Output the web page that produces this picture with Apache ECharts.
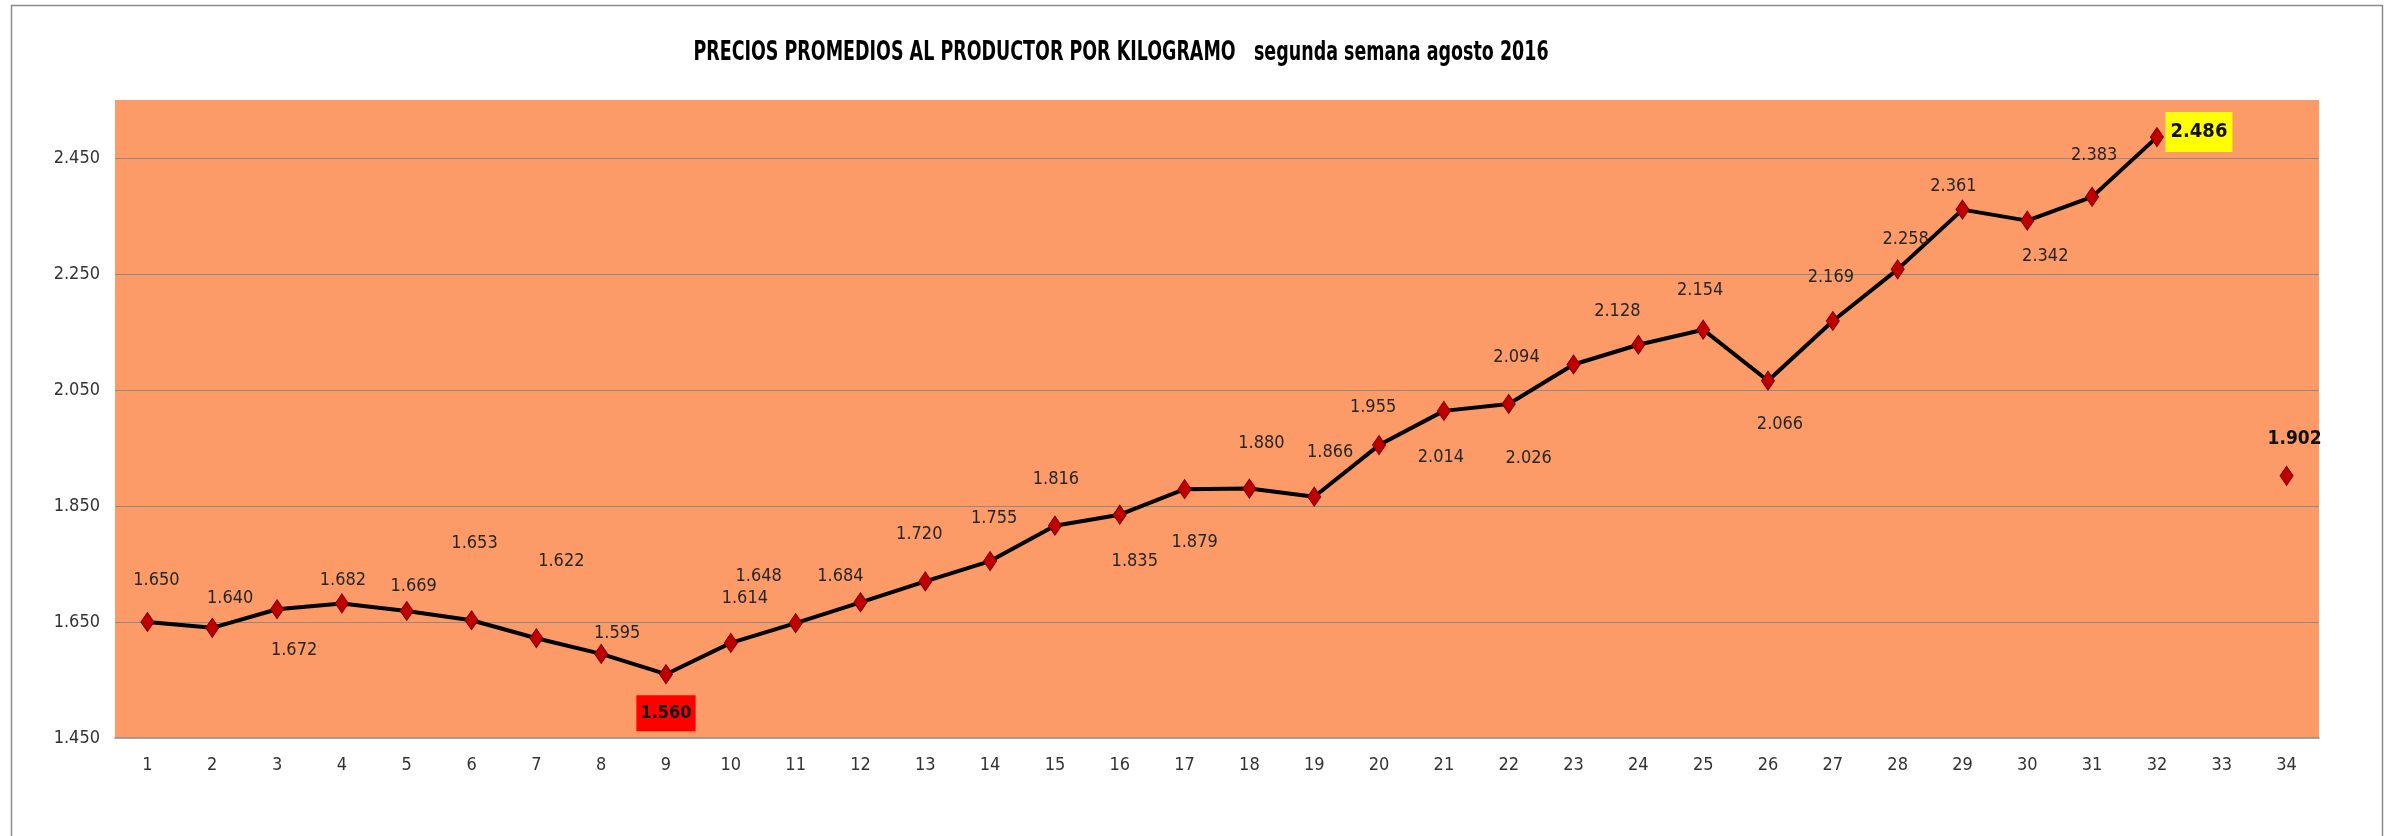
<!DOCTYPE html>
<html>
<head>
<meta charset="utf-8">
<script src="https://cdn.jsdelivr.net/npm/echarts@6/dist/echarts.min.js"></script>
<style>
html,body{margin:0;padding:0;background:#fff;}
#chart{width:2387px;height:836px;}
</style>
</head>
<body>
<div id="chart"></div>
<script>
const titleText = 'PRECIOS PROMEDIOS AL PRODUCTOR POR KILOGRAMO   segunda semana agosto 2016';
const categories = ['1','2','3','4','5','6','7','8','9','10','11','12','13','14','15','16','17','18','19','20','21','22','23','24','25','26','27','28','29','30','31','32','33','34'];
const prices = [1.650,1.640,1.672,1.682,1.669,1.653,1.622,1.595,1.560,1.614,1.648,1.684,1.720,1.755,1.816,1.835,1.879,1.880,1.866,1.955,2.014,2.026,2.094,2.128,2.154,2.066,2.169,2.258,2.361,2.342,2.383,2.486,null,1.902];
const yTicks = [1.450,1.650,1.850,2.050,2.250,2.450];

// label placement (layout only): [dx, dy] from each point
const labelOffsets = [[9,-42],[18,-29],[17,41],[1,-23],[7,-25],[3,-77],[25,-77],[16,-21],[0,39],[14,-45],
  [-37,-47],[-20,-26],[-6,-47],[4,-43],[1,-46],[15,47],[10,53],[12,-45],[16,-44],[-6,-38],
  [-3,46],[20,54],[-57,-7],[-21,-33],[-3,-39],[12,44],[-2,-44],[8,-30],[-9,-23],[18,36],
  [2,-42],[42,-5],[0,0],[8,-37]];
const minIdx = 8, maxIdx = 31, lastIdx = 33;

const FONT = '"DejaVu Sans Condensed", "Liberation Sans Narrow", sans-serif';
const chart = echarts.init(document.getElementById('chart'));

const seriesData = prices.map((v, i) => {
  if (v === null) return null;
  const lab = {show: true, position: 'inside', fontFamily: FONT, fontSize: 18, color: '#262626',
    formatter: p => p.value.toFixed(3)};
  if (i === minIdx) Object.assign(lab, {backgroundColor: '#FF0000', padding: [10, 4, 8, 4], fontWeight: 'bold', color: '#111'});
  if (i === maxIdx) Object.assign(lab, {backgroundColor: '#FFFF00', padding: [11, 5, 9, 5], fontWeight: 'bold', color: '#111', fontSize: 20});
  if (i === lastIdx) Object.assign(lab, {fontWeight: 'bold', color: '#111', fontSize: 19});
  return {value: v, label: lab};
});

chart.setOption({
  animation: false,
  backgroundColor: '#ffffff',
  grid: {left: 115, right: 68, top: 100, bottom: 98, show: true, backgroundColor: '#FC9A68', borderWidth: 0},
  xAxis: {
    type: 'category', data: categories, boundaryGap: true,
    axisLine: {show: true, lineStyle: {color: '#8c8c8c', width: 1.5}},
    axisTick: {show: false},
    axisLabel: {fontFamily: FONT, fontSize: 18, color: '#333', margin: 18}
  },
  yAxis: {
    type: 'value', min: 1.45, max: 2.55, interval: 0.2,
    axisLine: {show: false}, axisTick: {show: false},
    axisLabel: {fontFamily: FONT, fontSize: 18, color: '#333', margin: 15, showMaxLabel: false,
      formatter: v => {
        const t = yTicks.find(x => Math.abs(x - v) < 1e-6);
        return t === undefined ? '' : t.toFixed(3);
      }},
    splitLine: {show: true, showMinLine: false, showMaxLine: false, lineStyle: {color: '#8a8a8a', width: 1.2}}
  },
  graphic: [{
    type: 'rect', shape: {x: 11.5, y: 5.5, width: 2371, height: 900},
    style: {fill: null, stroke: '#8c8c8c', lineWidth: 1.5}, silent: true, z: 100
  }, {
    type: 'text', x: 1121, y: 53, scaleX: 0.72, silent: true, z: 100,
    style: {text: titleText, fontFamily: FONT, fontWeight: 'bold', fontSize: 27, fill: '#000',
      align: 'center', verticalAlign: 'middle'}
  }],
  series: [{
    type: 'line', data: seriesData, connectNulls: false,
    symbol: 'diamond', symbolSize: [13, 19],
    itemStyle: {color: '#C00000', borderColor: '#7a0000', borderWidth: 1},
    lineStyle: {color: '#000', width: 4},
    labelLayout: p => {
      const o = labelOffsets[p.dataIndex] || [0, 0];
      return {dx: o[0], dy: o[1], hideOverlap: false};
    }
  }]
});
</script>
</body>
</html>
